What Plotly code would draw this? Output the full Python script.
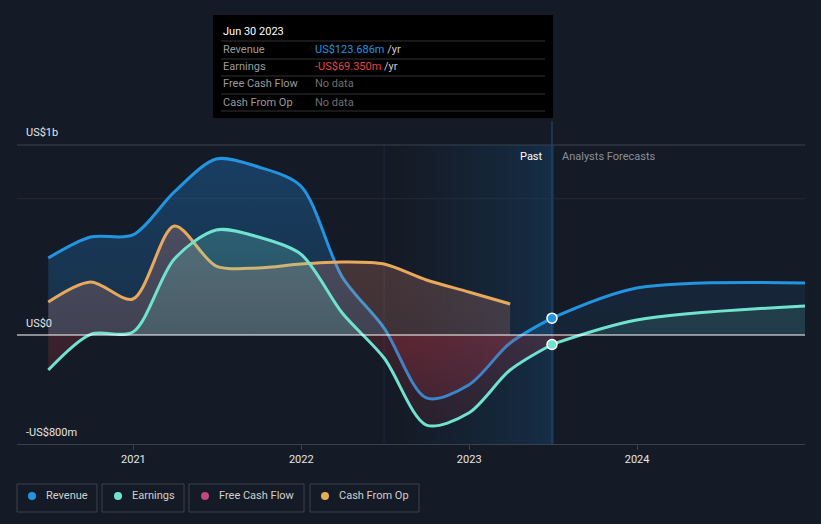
import plotly.graph_objects as go
import datetime as dt

# ---------------- data (US$) ----------------
past_dates = ["2020-06-30", "2020-09-30", "2020-12-31", "2021-03-31", "2021-06-30",
              "2021-09-30", "2021-12-31", "2022-03-31", "2022-06-30", "2022-09-30",
              "2022-12-31", "2023-03-31", "2023-06-30"]
revenue_past = [565e6, 719e6, 734e6, 1050e6, 1292e6, 1233e6, 1094e6, 426e6, 51e6,
                -462e6, -367e6, -59e6, 123.686e6]
earnings_past = [-257e6, 5e6, 22e6, 558e6, 771e6, 719e6, 594e6, 161e6, -169e6,
                 -661e6, -573e6, -257e6, -69.35e6]
cfo_dates = past_dates[:12]
cfo_past = [242e6, 389e6, 264e6, 800e6, 506e6, 492e6, 521e6, 536e6, 521e6,
            404e6, 316e6, 228e6]

fc_dates = ["2023-06-30", "2023-12-31", "2024-12-31"]
revenue_fc = [123.686e6, 345e6, 382e6]
earnings_fc = [-69.35e6, 110e6, 213e6]

y_tick_labels = ["US$1b", "US$0", "-US$800m"]
legend_names = ["Revenue", "Earnings", "Free Cash Flow", "Cash From Op"]

# ---------------- style ----------------
BG = "#151b26"
C_REV = "#2394e0"
C_EARN = "#6fe3cf"
C_FCF = "#c4457f"
C_CFO = "#e8a95c"
FONT = "Roboto"

YMIN, YMAX = -0.8e9, 1.3945e9
zf = (0 - YMIN) / (YMAX - YMIN)

W, H = 821, 524
L, R, T, B = 17, 16, 145, 80
PW, PH = W - L - R, H - T - B


def X(px):
    return (px - L) / PW


def Y(py):
    return (T + PH - py) / PH


def grad(rgb, a_top, a_zero, neg="200,55,70", a_neg=0.22):
    return dict(type="vertical", start=YMIN, stop=YMAX,
                colorscale=[[0, f"rgba({neg},{a_neg*0.4})"],
                            [zf - 0.0005, f"rgba({neg},{a_neg})"],
                            [zf + 0.0005, f"rgba({rgb},{a_zero})"],
                            [1, f"rgba({rgb},{a_top})"]])


fig = go.Figure()

# past-period shading as a smooth horizontal gradient
s0 = dt.date(2022, 6, 30)
s1 = dt.date(2023, 6, 30)
n = 40
span = (s1 - s0).days
hx = [(s0 + dt.timedelta(days=span * i / (n - 1))).isoformat() for i in range(n)]
hz = [[(i / (n - 1)) ** 1.3 for i in range(n)]] * 2
fig.add_trace(go.Heatmap(x=hx, y=[YMIN, YMAX], z=hz, zsmooth="best", showscale=False,
                         colorscale=[[0, "rgba(22,72,115,0.0)"], [1, "rgba(22,72,115,0.42)"]],
                         hoverinfo="skip"))

SM = 0.85
fig.add_trace(go.Scatter(x=past_dates, y=revenue_past, mode="lines",
                         line=dict(color=C_REV, width=3, shape="spline", smoothing=SM),
                         fill="tozeroy", fillgradient=grad("33,140,230", 0.32, 0.18),
                         hoverinfo="skip", showlegend=False))
fig.add_trace(go.Scatter(x=cfo_dates, y=cfo_past, mode="lines",
                         line=dict(color=C_CFO, width=3, shape="spline", smoothing=SM),
                         fill="tozeroy", fillgradient=grad("232,140,120", 0.28, 0.2),
                         hoverinfo="skip", showlegend=False))
fig.add_trace(go.Scatter(x=past_dates, y=earnings_past, mode="lines",
                         line=dict(color=C_EARN, width=3, shape="spline", smoothing=SM),
                         fill="tozeroy", fillgradient=grad("111,227,207", 0.28, 0.16),
                         hoverinfo="skip", showlegend=False))
fig.add_trace(go.Scatter(x=fc_dates, y=revenue_fc, mode="lines",
                         line=dict(color=C_REV, width=3, shape="spline", smoothing=SM),
                         fill="tozeroy", fillgradient=grad("33,140,230", 0.14, 0.08),
                         hoverinfo="skip", showlegend=False))
fig.add_trace(go.Scatter(x=fc_dates, y=earnings_fc, mode="lines",
                         line=dict(color=C_EARN, width=3, shape="spline", smoothing=SM),
                         fill="tozeroy", fillgradient=grad("111,227,207", 0.2, 0.12),
                         hoverinfo="skip", showlegend=False))
# current-point markers
fig.add_trace(go.Scatter(x=[fc_dates[0]], y=[revenue_fc[0]], mode="markers",
                         marker=dict(color=C_REV, size=10, line=dict(color="white", width=1.5)),
                         hoverinfo="skip", showlegend=False))
fig.add_trace(go.Scatter(x=[fc_dates[0]], y=[earnings_fc[0]], mode="markers",
                         marker=dict(color=C_EARN, size=10, line=dict(color="white", width=1.5)),
                         hoverinfo="skip", showlegend=False))

shapes = []
shapes.append(dict(type="line", xref="x", yref="paper", x0="2022-06-30", x1="2022-06-30",
                   y0=0, y1=1, line=dict(color="rgba(40,70,100,0.35)", width=1), layer="below"))
shapes.append(dict(type="line", xref="x", yref="paper", x0="2023-06-30", x1="2023-06-30",
                   y0=0, y1=1.08, line=dict(color="rgba(35,85,130,0.9)", width=1), layer="below"))
# grid lines
shapes.append(dict(type="line", xref="paper", yref="paper", x0=0, x1=1, y0=1, y1=1,
                   line=dict(color="#3a404c", width=1), layer="below"))
shapes.append(dict(type="line", xref="paper", yref="y", x0=0, x1=1, y0=1e9, y1=1e9,
                   line=dict(color="#242a36", width=1), layer="below"))
shapes.append(dict(type="line", xref="paper", yref="y", x0=0, x1=1, y0=0, y1=0,
                   line=dict(color="#ffffff", width=1.2), layer="above"))

# tooltip box
shapes.append(dict(type="rect", xref="paper", yref="paper", x0=X(213), x1=X(553), y0=Y(118), y1=Y(15),
                   fillcolor="#000000", line=dict(width=0), layer="above"))
for ly in [41, 59, 76, 94, 111]:
    shapes.append(dict(type="line", xref="paper", yref="paper", x0=X(221), x1=X(545), y0=Y(ly), y1=Y(ly),
                       line=dict(color="#333333", width=1), layer="above"))

annotations = []


def txt(px, py, text, color="#ffffff", size=11, xanchor="left"):
    annotations.append(dict(xref="paper", yref="paper", x=X(px), y=Y(py), text=text,
                            showarrow=False, xanchor=xanchor, yanchor="middle",
                            font=dict(family=FONT, size=size, color=color)))


txt(221, 31, "Jun 30 2023", "#ffffff", 11)
rows = [("Revenue", f"<span style='color:{C_REV}'>US$123.686m</span> /yr", "#cccccc"),
        ("Earnings", "<span style='color:#e64545'>-US$69.350m</span> /yr", "#cccccc"),
        ("Free Cash Flow", "No data", "#6f6f6f"),
        ("Cash From Op", "No data", "#6f6f6f")]
for (lab, val, vc), ry in zip(rows, [49, 67, 84, 102]):
    txt(221, ry, lab, "#9a9a9a", 11)
    txt(313, ry, val, vc, 11)

# y labels
txt(24, 132, y_tick_labels[0], "#e6e6e6", 11)
txt(24, 323, y_tick_labels[1], "#e6e6e6", 11)
txt(24, 432, y_tick_labels[2], "#e6e6e6", 11)

# past / forecast labels
txt(545, 156, "Past", "#ffffff", 11, "right")
txt(560, 156, "Analysts Forecasts", "#8a8f98", 11)

# custom legend
boxes = [(17, 97), (102, 184), (189, 304), (310, 419)]
dots = [32, 118, 205, 325]
texts = [44, 130, 217, 337]
cols = [C_REV, C_EARN, C_FCF, C_CFO]
for (bx0, bx1), dx, tx, c, name in zip(boxes, dots, texts, cols, legend_names):
    shapes.append(dict(type="rect", xref="paper", yref="paper", x0=X(bx0), x1=X(bx1), y0=Y(512), y1=Y(484),
                       fillcolor="rgba(0,0,0,0)", line=dict(color="#3c424d", width=1), layer="above"))
    shapes.append(dict(type="circle", xref="paper", yref="paper", x0=X(dx - 4), x1=X(dx + 4),
                       y0=Y(500), y1=Y(492), fillcolor=c, line=dict(width=0), layer="above"))
    txt(tx, 496, name, "#d0d0d0", 11)

fig.update_layout(
    width=W, height=H,
    margin=dict(l=L, r=R, t=T, b=B),
    paper_bgcolor=BG, plot_bgcolor=BG,
    font=dict(family=FONT, color="#dddddd", size=11),
    shapes=shapes, annotations=annotations,
    xaxis=dict(type="date", range=["2020-04-23", "2024-12-31"], showgrid=False, zeroline=False,
               showline=True, linecolor="#3a404c", linewidth=1,
               tickvals=["2021-01-01", "2022-01-01", "2023-01-01", "2024-01-01"],
               ticktext=["2021", "2022", "2023", "2024"],
               ticks="outside", ticklen=5, tickcolor="#3a404c",
               tickfont=dict(family=FONT, size=11, color="#e6e6e6"), fixedrange=True),
    yaxis=dict(range=[YMIN, YMAX], showgrid=False, zeroline=False, showticklabels=False,
               showline=False, fixedrange=True),
    showlegend=False,
    hovermode=False,
)

fig.write_html("out.html", config={"displayModeBar": False},
               post_script="document.body.style.margin='0';document.body.style.background='#151b26';")
